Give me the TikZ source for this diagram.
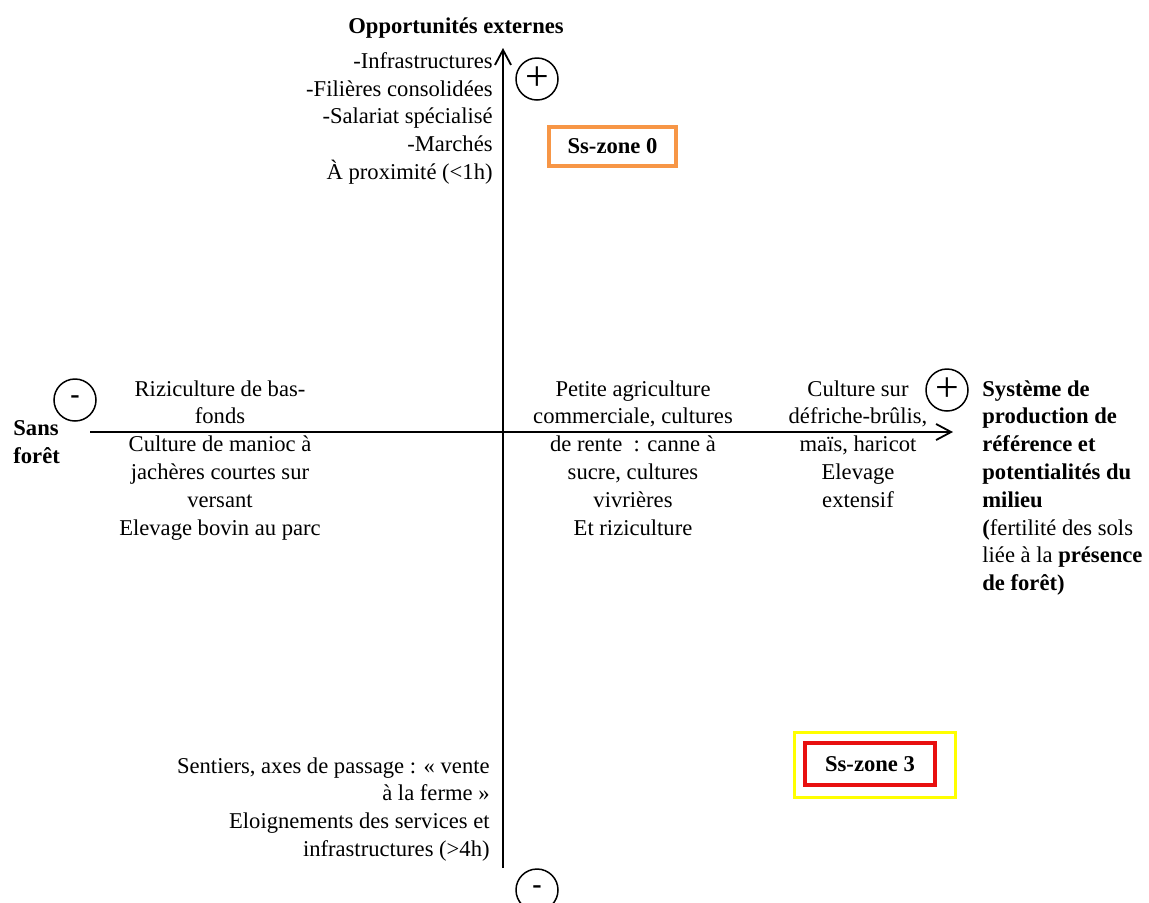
\documentclass[tikz,border=0pt]{standalone}
\usepackage{fontspec}
\setmainfont{LiberationSerif}[Extension=.ttf, UprightFont=*-Regular,
  BoldFont=*-Bold, ItalicFont=*-Italic, BoldItalicFont=*-BoldItalic]
\usetikzlibrary{arrows.meta,positioning}
\definecolor{zorange}{HTML}{F79646}
\definecolor{zred}{HTML}{E81010}
\definecolor{zyellow}{HTML}{FFFF00}
\newcommand{\diagfont}{\rmfamily\fontsize{11.3}{13.9}\selectfont}
\tikzset{
  every picture/.append style={font=\diagfont},
  axis/.style  = {draw=black, line width=0.9pt,
                  -{Straight Barb[length=7.5pt,width=8pt]}},
  sgn/.style   = {circle, draw=black, line width=0.75pt, minimum size=21pt,
                  inner sep=0pt},
  sgnplus/.style  = {sgn, font=\rmfamily\fontsize{21}{21}\selectfont},
  sgnminus/.style = {sgn, font=\rmfamily\fontsize{14}{14}\selectfont\bfseries},
  txt/.style   = {inner sep=0pt, align=center},
  ttl/.style   = {inner sep=0pt, font=\diagfont\bfseries},
  zbox/.style  = {line width=2pt, inner sep=0pt, font=\diagfont\bfseries},
}

\begin{document}
\begin{tikzpicture}[x=0.5pt, y=-0.5pt]
  \fill[white] (0,0) rectangle (1149,902);
  \useasboundingbox (0,0) rectangle (1149,902);

  % axes
  \coordinate (xl) at (90,432);
  \coordinate (xr) at (953,432);
  \coordinate (yb) at (503,868);
  \coordinate (yt) at (503,48);
  \draw[axis] (xl) -- (xr);
  \draw[axis] (yb) -- (yt);

  % signs
  \node[sgnplus]  (ptop)   at (537,79)  {+};
  \node[sgnplus]  (pright) at (947,390) {+};
  \node[sgnminus] (mleft)  at (75,400)  {-};
  \node[sgnminus] (mbot)   at (537,890) {-};

  % vertical axis
  \node[ttl, anchor=base] (opext) at (456,33) {Opportunités externes};
  \node[txt, align=right, anchor=north east] (oplist) at (493,52)
    {-Infrastructures\\-Filières consolidées\\-Salariat spécialisé\\-Marchés\\À proximité (<1h)};
  \node[txt, align=right, anchor=north east] (sentiers) at (490,757)
    {Sentiers, axes de passage : « vente\\à la ferme »\\Eloignements des services et\\infrastructures (>4h)};

  % horizontal axis
  \node[ttl, align=left, anchor=north west] (sansf) at (13,420) {Sans\\forêt};
  \node[txt, anchor=north] (rizi) at (220,380)
    {Riziculture de bas-\\fonds\\Culture de manioc à\\jachères courtes sur\\versant\\Elevage bovin au parc};
  \node[txt, anchor=north] (petite) at (633,380)
    {Petite agriculture\\commerciale, cultures\\de rente\ \ : canne à\\sucre, cultures\\vivrières\\Et riziculture};
  \node[txt, anchor=north] (defri) at (858,380)
    {Culture sur\\défriche-brûlis,\\maïs, haricot\\Elevage\\extensif};
  \node[txt, align=left, anchor=north west] (sysref) at (982,380)
    {\textbf{Système de}\\\textbf{production de}\\\textbf{référence et}\\\textbf{potentialités du}\\\textbf{milieu}\\\textbf{(}fertilité des sols\\liée à la \textbf{présence}\\\textbf{de forêt)}};

  % sous-zones
  \node[zbox, draw=zorange, minimum width=63.5pt, minimum height=19.5pt] (zone0) at (612.5,146.5) {Ss-zone 0};
  \node[zbox, draw=zyellow, line width=1.5pt, minimum width=80.5pt, minimum height=32.5pt] (zone3out) at (875,765) {};
  \node[zbox, draw=zred, minimum width=65pt, minimum height=21pt] (zone3) at (870,764) {Ss-zone 3};
\end{tikzpicture}
\end{document}
